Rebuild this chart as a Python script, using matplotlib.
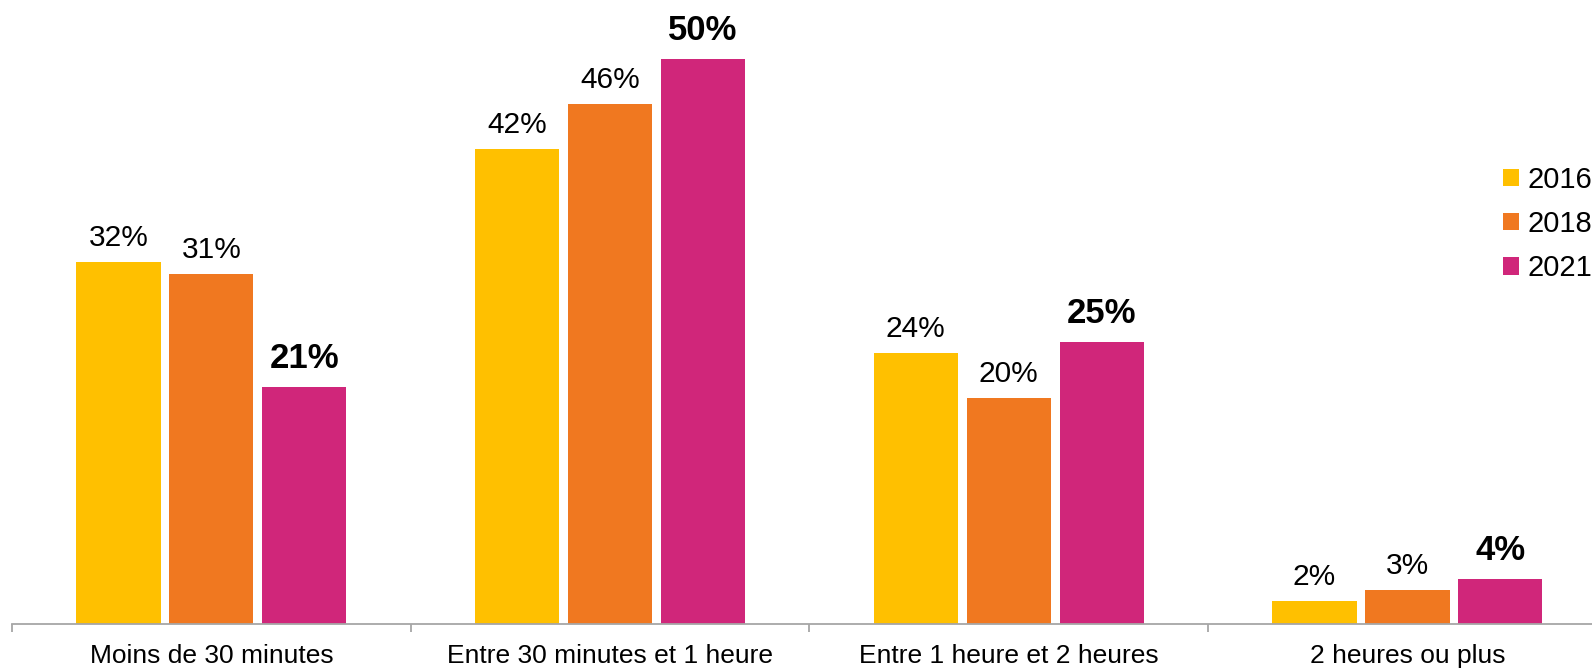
import numpy as np
import matplotlib.pyplot as plt

categories = ["Moins de 30 minutes", "Entre 30 minutes et 1 heure",
              "Entre 1 heure et 2 heures", "2 heures ou plus"]
years = ["2016", "2018", "2021"]
v2016 = [32, 42, 24, 2]
v2018 = [31, 46, 20, 3]
v2021 = [21, 50, 25, 4]
colors = ["#FFC000", "#F07820", "#D0267A"]

plt.rcParams["font.family"] = ["Liberation Sans", "DejaVu Sans"]

W, H = 1592, 668
fig = plt.figure(figsize=(W / 100, H / 100), dpi=100)
# axes box in pixels: left 12, bottom at y=624, one category = ~399 px
ax = fig.add_axes([12 / W, 44 / H, 4 * 398.7 / W, 624 / H])

x = np.arange(len(categories))
step = 0.233
width = 0.211
series = [v2016, v2018, v2021]
for i, (vals, year, col) in enumerate(zip(series, years, colors)):
    pos = x + (i - 1) * step
    bars = ax.bar(pos, vals, width=width, color=col, label=year)
    bold = year == "2021"
    for b, v in zip(bars, vals):
        ax.annotate(f"{v}%", (b.get_x() + b.get_width() / 2, v),
                    xytext=(0, 13.5 if bold else 11.5), textcoords="offset points",
                    ha="center", va="baseline",
                    fontsize=25 if bold else 21.5,
                    fontweight="bold" if bold else "normal")

ax.set_xlim(-0.5, 3.5)
ax.set_ylim(0, 624 / 11.3)
ax.set_yticks([])
for s in ["top", "right", "left"]:
    ax.spines[s].set_visible(False)
ax.spines["bottom"].set_color("#A6A6A6")
ax.spines["bottom"].set_linewidth(1.3)
ax.set_xticks(x)
ax.set_xticklabels(categories, fontsize=19)
ax.tick_params(axis="x", which="major", length=0, pad=14.5)
ax.set_xticks(np.arange(-0.5, 4, 1), minor=True)
ax.tick_params(axis="x", which="minor", length=6, color="#A6A6A6", width=1.3)

fig.legend(loc="center left", bbox_to_anchor=(1503 / W, 1 - 224 / H),
           frameon=False, fontsize=21, handlelength=0.54, handleheight=0.54,
           handletextpad=0.3, labelspacing=0.56, borderaxespad=0, borderpad=0)

fig.savefig("out.png", dpi=100)
